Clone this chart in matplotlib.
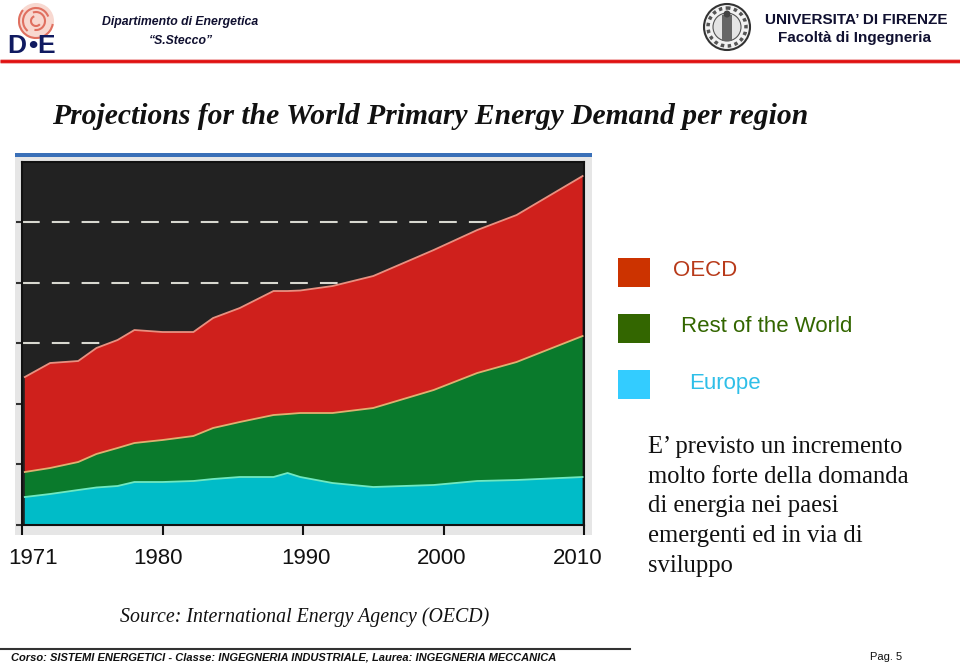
import matplotlib
matplotlib.use('Agg')
from matplotlib import pyplot as plt
from matplotlib.patches import Rectangle, Circle, Arc

# years, the axis has equal steps so 1971 sits at 1970
years = [1970.2, 1972, 1974, 1975.3, 1976.8, 1978, 1980, 1982.2, 1983.6, 1985.5,
         1987.9, 1988.9, 1989.8, 1992.1, 1995, 1999.3, 2002.4, 2005.2, 2009.9]
europe = [924, 1023, 1155, 1238, 1287, 1419, 1419, 1452, 1518, 1584,
          1584, 1716, 1584, 1386, 1254, 1320, 1452, 1485, 1584]
rest_world = [825, 858, 924, 1106, 1254, 1287, 1386, 1485, 1683, 1815,
              2046, 1947, 2112, 2310, 2607, 3135, 3564, 3894, 4653]
oecd = [3135, 3465, 3333, 3498, 3564, 3729, 3564, 3432, 3630, 3762,
        4092, 4059, 4043, 4191, 4356, 4620, 4719, 4851, 5280]

tick_pos = [1970, 1980, 1990, 2000, 2010]
tick_labels = ['1971', '1980', '1990', '2000', '2010']
grid_levels = [6000, 8000, 10000]
y_ticks = [0, 2000, 4000, 6000, 8000, 10000]

legend_names = ['OECD', 'Rest of the World', 'Europe']
legend_box = ['#cc3300', '#336600', '#33ccff']
legend_text = ['#b83a1a', '#336600', '#2fbfe8']

W, H = 960, 665
fig = plt.figure(figsize=(W / 100, H / 100), dpi=100)
plt.rcParams['font.family'] = 'Liberation Sans'

# whole slide overlay in pixel coordinates, y going down
bg = fig.add_axes([0, 0, 1, 1])
bg.set_xlim(0, W)
bg.set_ylim(H, 0)
bg.axis('off')

# picture surround and blue strip of the pasted chart
bg.add_patch(Rectangle((15, 157), 577, 378, color='#e6e6e6', lw=0))
bg.add_patch(Rectangle((15, 153), 577, 4, color='#3a70b8', lw=0))

# chart
ax = fig.add_axes([22 / W, 1 - 525 / H, 562 / W, 363 / H])
ax.set_facecolor('#222222')
ax.set_xlim(1970, 2010)
ax.set_ylim(0, 11980)
ax.hlines(grid_levels, 1970, 2010, color='#d8d8d0', lw=1.5, linestyles=(0, (8.5, 5.8)), zorder=1)
ax.stackplot(years, europe, rest_world, oecd, colors=['#00bcc8', '#0a7a2c', '#cf201c'], zorder=2)

total1 = [a + b for a, b in zip(europe, rest_world)]
total2 = [a + b for a, b in zip(total1, oecd)]
ax.plot(years, europe, color='#70e8c0', lw=1.3, zorder=3)
ax.plot(years, total1, color='#e0b070', lw=1.3, zorder=3)
ax.plot(years, total2, color='#e89080', lw=1.3, zorder=3)

ax.set_xticks(tick_pos)
ax.set_xticklabels([])
ax.set_yticks(y_ticks)
ax.set_yticklabels([])
ax.tick_params(axis='x', length=7, width=1.5, color='#111111')
ax.tick_params(axis='y', length=4, width=1.5, color='#333333')
for s in ax.spines.values():
    s.set_color('#111111')
    s.set_linewidth(1.5)

# year labels sit a bit off their ticks in the slide
for x, lab in zip([33, 158, 306, 442, 578], tick_labels):
    bg.text(x, 559, lab, fontsize=16, ha='center', va='center', color='#111111')

# header
bg.text(180, 22, 'Dipartimento di Energetica', fontsize=8.8, style='italic', weight='bold',
        ha='center', va='center', color='#101030')
bg.text(181, 41, '\u201cS.Stecco\u201d', fontsize=8.8, style='italic', weight='bold',
        ha='center', va='center', color='#101030')
bg.text(856, 20, 'UNIVERSITA\u2019 DI FIRENZE', fontsize=11, weight='bold',
        ha='center', va='center', color='#101030')
bg.text(855, 38, 'Facolt\u00e0 di Ingegneria', fontsize=11, weight='bold',
        ha='center', va='center', color='#101030')

# red rule under the header, pale edge then core
bg.plot([0, 960], [60.5, 60.5], color='#f0a8a8', lw=3.4, solid_capstyle='butt')
bg.plot([0, 960], [60.5, 60.5], color='#e01010', lw=2, solid_capstyle='butt')

# D.E logo, rough
bg.add_patch(Circle((36, 21), 18, fc='#f8d8d0', ec='none'))
for r, t1 in [(34, 10), (26, 130), (18, 250), (10, 40)]:
    bg.add_patch(Arc((36, 21), r, r, theta1=t1, theta2=t1 + 210, color='#e07060', lw=1.5))
for x, ch in zip([17, 33, 46], ['D', '\u2022', 'E']):
    bg.text(x, 46, ch, fontsize=19, weight='bold', ha='center', va='center', color='#101a60')

# university seal, rough
bg.add_patch(Circle((727, 27), 23, fc='#f2f2f2', ec='#333333', lw=1.5))
bg.add_patch(Circle((727, 27), 19, fc='none', ec='#555555', lw=2.5, ls=(0, (1, 1))))
bg.add_patch(Circle((727, 27), 14, fc='#e4e4e4', ec='#555555', lw=0.8))
bg.add_patch(Rectangle((722, 15), 10, 26, color='#666666', lw=0))
bg.add_patch(Circle((727, 14), 3.5, color='#444444', lw=0))

# title
bg.text(52, 116, 'Projections for the World Primary Energy Demand per region', fontsize=21.35,
        family='Liberation Serif', style='italic', weight='bold', ha='left', va='center', color='#111111')

# legend
for y, x_text, name, c1, c2 in zip([258, 314, 370], [673, 681, 689], legend_names, legend_box, legend_text):
    bg.add_patch(Rectangle((618, y), 32, 29, color=c1, lw=0))
    bg.text(x_text, y + 13, name, fontsize=16, ha='left', va='center', color=c2)

# comment on the right
note = ['E\u2019 previsto un incremento', 'molto forte della domanda', 'di energia nei paesi',
        'emergenti ed in via di', 'sviluppo']
for i, line in enumerate(note):
    bg.text(648, 447 + i * 29.7, line, fontsize=17.7, family='Liberation Serif', ha='left', va='center',
            color='#111111')

bg.text(120, 617, 'Source: International Energy Agency (OECD)', fontsize=14.3,
        family='Liberation Serif', style='italic', ha='left', va='center', color='#111111')

# footer
bg.plot([0, 630], [649, 649], color='#333333', lw=1.5)
bg.text(11, 657, 'Corso: SISTEMI ENERGETICI - Classe: INGEGNERIA INDUSTRIALE, Laurea: INGEGNERIA MECCANICA',
        fontsize=8.0, style='italic', weight='bold', ha='left', va='center', color='#111111')
bg.text(870, 657, 'Pag. 5', fontsize=8, ha='left', va='center', color='#111111')

fig.savefig('out.png', dpi=100)
